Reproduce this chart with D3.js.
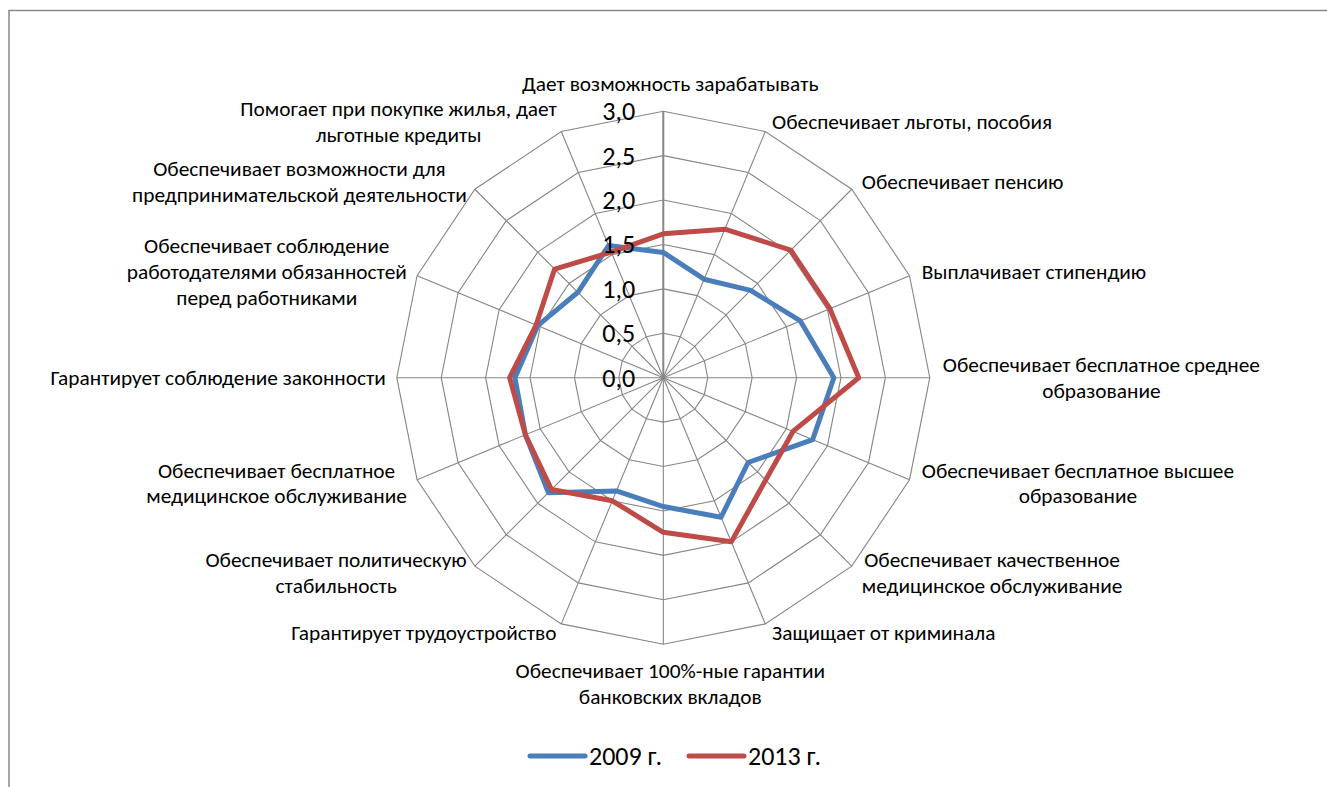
<!DOCTYPE html>
<html><head><meta charset="utf-8">
<script src="https://cdn.jsdelivr.net/npm/d3@7"></script>
<style>
body{margin:0;background:#fff}
svg{display:block}
text{font-family:Carlito, Calibri, Roboto, "Noto Sans", sans-serif; fill:#000;}
</style>
</head><body>
<svg id="c" width="1327" height="787"></svg>
<script>
const categories = [
  "Дает возможность зарабатывать",
  "Обеспечивает льготы, пособия",
  "Обеспечивает пенсию",
  "Выплачивает стипендию",
  "Обеспечивает бесплатное среднее\nобразование",
  "Обеспечивает бесплатное высшее\nобразование",
  "Обеспечивает качественное\nмедицинское обслуживание",
  "Защищает от криминала",
  "Обеспечивает 100%-ные гарантии\nбанковских вкладов",
  "Гарантирует трудоустройство",
  "Обеспечивает политическую\nстабильность",
  "Обеспечивает бесплатное\nмедицинское обслуживание",
  "Гарантирует соблюдение законности",
  "Обеспечивает соблюдение\nработодателями обязанностей\nперед работниками",
  "Обеспечивает возможности для\nпредпринимательской деятельности",
  "Помогает при покупке жилья, дает\nльготные кредиты"
];
const values2009 = [1.41, 1.20, 1.39, 1.67, 1.92, 1.82, 1.35, 1.70, 1.45, 1.38, 1.83, 1.68, 1.67, 1.53, 1.36, 1.61];
const values2013 = [1.62, 1.81, 2.03, 2.03, 2.20, 1.58, 1.63, 2.00, 1.74, 1.50, 1.78, 1.68, 1.73, 1.55, 1.73, 1.53];
const seriesNames = ["2009 г.", "2013 г."];
const seriesColors = ["#4a7ebb", "#be4b48"];
const tickValues = [0, 0.5, 1.0, 1.5, 2.0, 2.5, 3.0];
const tickLabels = ["0,0", "0,5", "1,0", "1,5", "2,0", "2,5", "3,0"];

const svg = d3.select("#c");
const cx = 663.3, cy = 377.7, R = 266.5;
const gridColor = "#868686";

// border
svg.append("rect").attr("x", 9).attr("y", 10.5).attr("width", 1400).attr("height", 900)
  .attr("fill", "none").attr("stroke", "#888").attr("stroke-width", 1.5);

const r = d3.scaleLinear().domain([0, 3]).range([0, R]);
const n = categories.length;
const ang = d3.scaleLinear().domain([0, n]).range([0, 2 * Math.PI]);

const g = svg.append("g").attr("transform", `translate(${cx},${cy})`);

// rings
const ringLine = d3.lineRadial().curve(d3.curveLinearClosed);
tickValues.slice(1).forEach(v => {
  g.append("path")
    .attr("d", ringLine(d3.range(n).map(i => [ang(i), r(v)])))
    .attr("fill", "none").attr("stroke", gridColor).attr("stroke-width", 1.1);
});
// spokes
d3.range(n).forEach(i => {
  const a = ang(i);
  g.append("line")
    .attr("x1", 0).attr("y1", 0)
    .attr("x2", r(3) * Math.sin(a)).attr("y2", -r(3) * Math.cos(a))
    .attr("stroke", gridColor).attr("stroke-width", i === 0 ? 2 : 1.1);
});

// series
const sLine = d3.lineRadial().curve(d3.curveLinearClosed);
[values2009, values2013].forEach((vals, k) => {
  g.append("path")
    .attr("d", sLine(vals.map((v, i) => [ang(i), r(v)])))
    .attr("fill", "none").attr("stroke", seriesColors[k])
    .attr("stroke-width", 5).attr("stroke-linejoin", "round");
});

// calibrate font sizes
function widthAt(str, size) {
  const t = svg.append("text").attr("font-size", size).text(str);
  const w = t.node().getComputedTextLength();
  t.remove();
  return w;
}
const catFS = 0.96 * 20 * 309 / widthAt(categories[0], 20);
const tickFS = 24 * 33 / widthAt("3,0", 24);
const legFS = 24 * 73 / widthAt(seriesNames[0], 24);

// tick labels
tickValues.forEach((v, i) => {
  g.append("text")
    .attr("x", -28).attr("y", -r(v))
    .attr("text-anchor", "end").attr("dominant-baseline", "central")
    .attr("font-size", tickFS).text(tickLabels[i]);
});

// category labels
const lh = 25.8, d = 10;
categories.forEach((c, i) => {
  const a = ang(i);
  const s = Math.sin(a), co = Math.cos(a);
  const px = cx + (R + d) * s, py = cy - (R + d) * co;
  const lines = c.split("\n");
  const t = svg.append("text").attr("font-size", catFS).attr("text-anchor", "middle")
    .attr("dominant-baseline", "central");
  const spans = lines.map(l => t.append("tspan").text(l));
  const W = d3.max(spans, sp => sp.node().getComputedTextLength());
  const H = lines.length * lh;
  let left, top;
  if (Math.abs(s) < 1e-6) left = px - W / 2 + 7;
  else if (s > 0) left = px + 3;
  else left = px - W - 1;
  if (Math.abs(s) < 1e-6) top = co > 0 ? py - 4 - H : py + 4;
  else top = py - H / 2;
  spans.forEach((sp, j) => sp.attr("x", left + W / 2).attr("y", top + lh * (j + 0.5)));
});

// legend
const legY = 756;
const legStarts = [530, 689];
seriesNames.forEach((nm, k) => {
  svg.append("line").attr("x1", legStarts[k]).attr("x2", legStarts[k] + 55)
    .attr("y1", legY).attr("y2", legY)
    .attr("stroke", seriesColors[k]).attr("stroke-width", 5).attr("stroke-linecap", "round");
  svg.append("text").attr("x", legStarts[k] + 59).attr("y", legY)
    .attr("dominant-baseline", "central").attr("font-size", legFS).text(nm);
});
</script>
</body></html>
